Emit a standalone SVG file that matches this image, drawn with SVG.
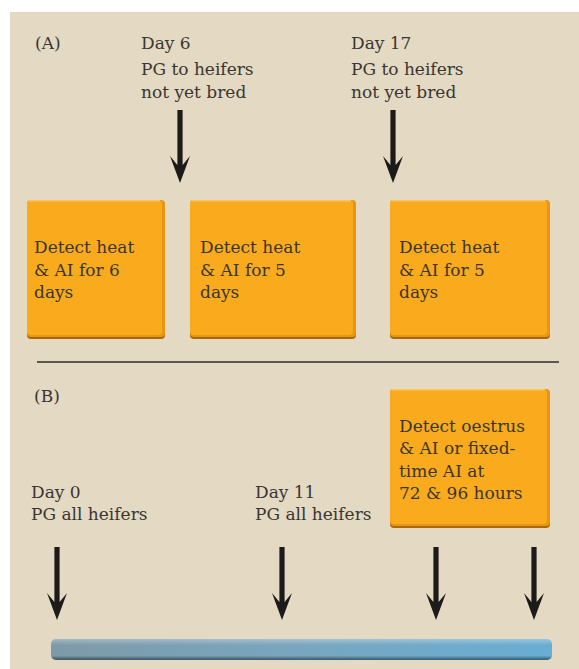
<svg xmlns="http://www.w3.org/2000/svg" width="579" height="669" viewBox="0 0 579 669">
<defs>
<style>
text{font-family:"DejaVu Serif","Liberation Serif",serif;font-size:17px;fill:#3a3631}
.shadow{fill:#a8680e}
.edge{fill:#e8950f}
.box{fill:#f9ab1d}
.hl{fill:#fcc45e}
</style>
<path id="arr" d="M0,0 L-10,-27 L-2.6,-18 L-2.6,-73 L2.6,-73 L2.6,-18 L10,-27 Z" fill="#1d1b1a"/>
<linearGradient id="bar" x1="0" y1="0" x2="1" y2="0">
<stop offset="0" stop-color="#7e9aa8"/>
<stop offset="0.5" stop-color="#79a6bf"/>
<stop offset="1" stop-color="#68aed3"/>
</linearGradient>
<linearGradient id="barv" x1="0" y1="0" x2="0" y2="1">
<stop offset="0" stop-color="#ffffff" stop-opacity="0.3"/>
<stop offset="0.3" stop-color="#ffffff" stop-opacity="0"/>
<stop offset="0.8" stop-color="#000000" stop-opacity="0"/>
<stop offset="1" stop-color="#0b2a3c" stop-opacity="0.6"/>
</linearGradient>
</defs>
<rect x="0" y="0" width="579" height="669" fill="#ffffff"/>
<rect x="10" y="12" width="569" height="657" fill="#e4d9c3"/>

<text x="35" y="49">(A)</text>
<g id="label-day6">
<text x="141" y="49">Day 6</text>
<text x="141" y="75">PG to heifers</text>
<text x="141" y="98">not yet bred</text>
</g>
<g id="label-day17">
<text x="351" y="49">Day 17</text>
<text x="351" y="75">PG to heifers</text>
<text x="351" y="98">not yet bred</text>
</g>

<g id="box-a1">
<rect class="shadow" x="27" y="202" width="138" height="137" rx="4"/>
<rect class="edge" x="27" y="200" width="138" height="137" rx="4"/>
<rect class="box" x="27" y="200" width="135" height="135" rx="4"/>
<rect class="hl" x="29" y="200" width="131" height="1.5"/>
<text x="34" y="253">Detect heat</text>
<text x="34" y="276">&amp; AI for 6</text>
<text x="34" y="298">days</text>
</g>
<g id="box-a2">
<rect class="shadow" x="190" y="202" width="166" height="137" rx="4"/>
<rect class="edge" x="190" y="200" width="166" height="137" rx="4"/>
<rect class="box" x="190" y="200" width="163" height="135" rx="4"/>
<rect class="hl" x="192" y="200" width="159" height="1.5"/>
<text x="200" y="253">Detect heat</text>
<text x="200" y="276">&amp; AI for 5</text>
<text x="200" y="298">days</text>
</g>
<g id="box-a3">
<rect class="shadow" x="390" y="202" width="160" height="137" rx="4"/>
<rect class="edge" x="390" y="200" width="160" height="137" rx="4"/>
<rect class="box" x="390" y="200" width="157" height="135" rx="4"/>
<rect class="hl" x="392" y="200" width="153" height="1.5"/>
<text x="399" y="253">Detect heat</text>
<text x="399" y="276">&amp; AI for 5</text>
<text x="399" y="298">days</text>
</g>

<line x1="37" y1="362" x2="559" y2="362" stroke="#2e2c2a" stroke-width="1.5"/>

<text x="34" y="402">(B)</text>
<g id="box-b">
<rect class="shadow" x="390" y="391" width="160" height="137" rx="4"/>
<rect class="edge" x="390" y="389" width="160" height="137" rx="4"/>
<rect class="box" x="390" y="389" width="157" height="135" rx="4"/>
<rect class="hl" x="392" y="389" width="153" height="1.5"/>
<text x="399" y="432">Detect oestrus</text>
<text x="399" y="454">&amp; AI or fixed-</text>
<text x="399" y="477">time AI at</text>
<text x="399" y="499">72 &amp; 96 hours</text>
</g>
<g id="label-day0">
<text x="31" y="498">Day 0</text>
<text x="31" y="520">PG all heifers</text>
</g>
<g id="label-day11">
<text x="255" y="498">Day 11</text>
<text x="255" y="520">PG all heifers</text>
</g>

<g id="timeline">
<rect x="51" y="639" width="501" height="21" rx="5" fill="url(#bar)"/>
<rect x="51" y="639" width="501" height="21" rx="5" fill="url(#barv)"/>
</g>

<g id="connectors">
<use href="#arr" x="180" y="183"/>
<use href="#arr" x="393" y="183"/>
<use href="#arr" x="57" y="620"/>
<use href="#arr" x="282" y="620"/>
<use href="#arr" x="436" y="620"/>
<use href="#arr" x="534" y="620"/>
</g>
</svg>
